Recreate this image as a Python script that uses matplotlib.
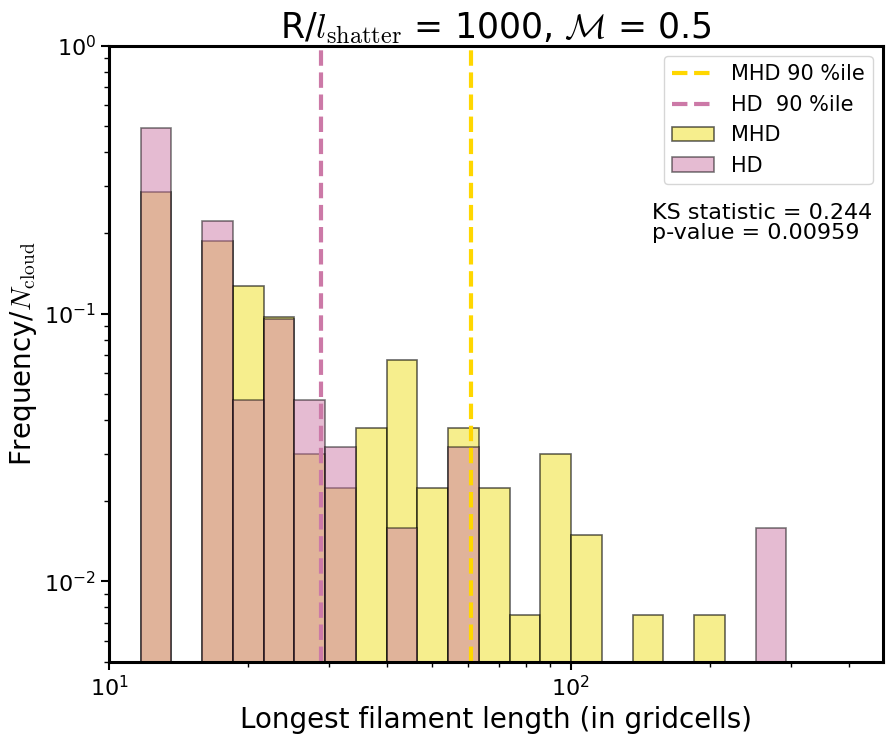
import numpy as np
import matplotlib
matplotlib.use('Agg')
import matplotlib.pyplot as plt

plt.rcParams['mathtext.fontset'] = 'cm'
plt.rcParams['font.family'] = 'DejaVu Sans'

# bin edges (log spaced)
lmin, lmax, nbins = 11.69, 293.4, 21
edges = np.logspace(np.log10(lmin), np.log10(lmax), nbins + 1)

# filament counts per bin
mhd_counts = [38, 0, 25, 17, 13, 4, 3, 5, 9, 3, 5, 3, 1, 4, 2, 0, 1, 0, 1, 0, 0]
hd_counts = [31, 0, 14, 3, 6, 3, 2, 0, 1, 0, 2, 0, 0, 0, 0, 0, 0, 0, 0, 0, 1]
n_mhd = 134
n_hd = 63

mhd_p90 = 60.8
hd_p90 = 28.8
ks_stat = 0.244
p_value = 0.00959

mhd_freq = np.array(mhd_counts) / n_mhd
hd_freq = np.array(hd_counts) / n_hd
centers = np.sqrt(edges[:-1] * edges[1:])

fig = plt.figure(figsize=(8.94, 7.40), dpi=100)
ax = fig.add_axes([0.1223, 0.1054, 0.8654, 0.8328])

ax.axvline(mhd_p90, color='gold', ls='--', lw=3, label='MHD 90 %ile')
ax.axvline(hd_p90, color='#CC79A7', ls='--', lw=3, label='HD  90 %ile')
ax.hist(centers, bins=edges, weights=mhd_freq, color='#F0E442', alpha=0.6,
        edgecolor='k', linewidth=1.2, label='MHD')
ax.hist(centers, bins=edges, weights=hd_freq, color='#CC79A7', alpha=0.5,
        edgecolor='k', linewidth=1.2, label='HD')

ax.set_xscale('log')
ax.set_yscale('log')
ax.set_xlim(10, 475)
ax.set_ylim(0.005, 1)

ax.set_title(r'R/$l_{\rm shatter}$ = 1000, $\mathcal{M}$ = 0.5', fontsize=25, pad=4)
ax.set_xlabel('Longest filament length (in gridcells)', fontsize=20)
ax.set_ylabel(r'Frequency/$N_{\rm cloud}$', fontsize=20)
ax.tick_params(which='major', labelsize=16, length=6, width=1.5)
ax.tick_params(which='minor', length=3.5, width=1)
for s in ax.spines.values():
    s.set_linewidth(2.2)

ax.legend(loc='upper right', fontsize=15)
ax.text(0.701, 0.745, 'KS statistic = %.3f\np-value = %.5f' % (ks_stat, p_value),
        transform=ax.transAxes, fontsize=16, va='top', ha='left', linespacing=1.0)

fig.savefig('out.png', dpi=100)
